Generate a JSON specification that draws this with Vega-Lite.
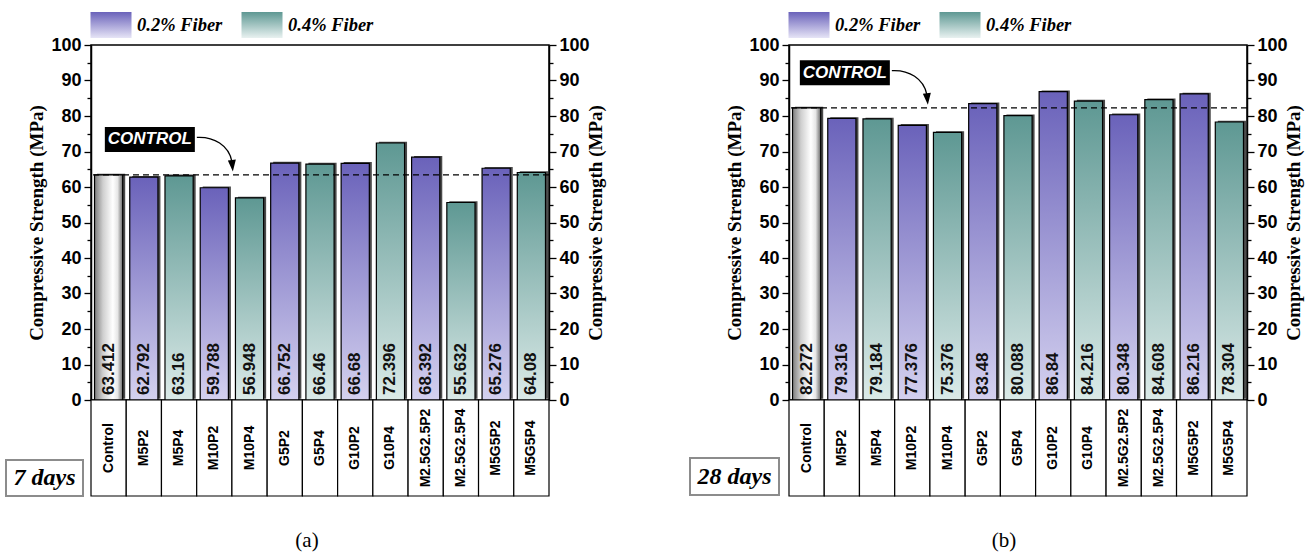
{
  "$schema": "https://vega.github.io/schema/vega-lite/v6.json",
  "background": "white",
  "padding": {"left": 5, "top": 3, "right": 3, "bottom": 3},
  "datasets": {
    "d7": [
      {"cat": "Control", "series": "Control", "value": 63.412},
      {"cat": "M5P2", "series": "0.2% Fiber", "value": 62.792},
      {"cat": "M5P4", "series": "0.4% Fiber", "value": 63.16},
      {"cat": "M10P2", "series": "0.2% Fiber", "value": 59.788},
      {"cat": "M10P4", "series": "0.4% Fiber", "value": 56.948},
      {"cat": "G5P2", "series": "0.2% Fiber", "value": 66.752},
      {"cat": "G5P4", "series": "0.4% Fiber", "value": 66.46},
      {"cat": "G10P2", "series": "0.2% Fiber", "value": 66.68},
      {"cat": "G10P4", "series": "0.4% Fiber", "value": 72.396},
      {"cat": "M2.5G2.5P2", "series": "0.2% Fiber", "value": 68.392},
      {"cat": "M2.5G2.5P4", "series": "0.4% Fiber", "value": 55.632},
      {"cat": "M5G5P2", "series": "0.2% Fiber", "value": 65.276},
      {"cat": "M5G5P4", "series": "0.4% Fiber", "value": 64.08}
    ],
    "d28": [
      {"cat": "Control", "series": "Control", "value": 82.272},
      {"cat": "M5P2", "series": "0.2% Fiber", "value": 79.316},
      {"cat": "M5P4", "series": "0.4% Fiber", "value": 79.184},
      {"cat": "M10P2", "series": "0.2% Fiber", "value": 77.376},
      {"cat": "M10P4", "series": "0.4% Fiber", "value": 75.376},
      {"cat": "G5P2", "series": "0.2% Fiber", "value": 83.48},
      {"cat": "G5P4", "series": "0.4% Fiber", "value": 80.088},
      {"cat": "G10P2", "series": "0.2% Fiber", "value": 86.84},
      {"cat": "G10P4", "series": "0.4% Fiber", "value": 84.216},
      {"cat": "M2.5G2.5P2", "series": "0.2% Fiber", "value": 80.348},
      {"cat": "M2.5G2.5P4", "series": "0.4% Fiber", "value": 84.608},
      {"cat": "M5G5P2", "series": "0.2% Fiber", "value": 86.216},
      {"cat": "M5G5P4", "series": "0.4% Fiber", "value": 78.304}
    ],
    "c7": [{"ctrl": 63.412}],
    "c28": [{"ctrl": 82.272}],
    "a7": [{"cat": "M5P2", "ay": 73.4, "label": "CONTROL"}],
    "a28": [{"cat": "M5P2", "ay": 92.2, "label": "CONTROL"}],
    "b7": [{"x0": 0, "x1": 1, "xm": 0.5, "y0": 0, "y1": 1, "ym": 0.5, "label": "7 days"}],
    "b28": [{"x0": 0, "x1": 1, "xm": 0.5, "y0": 0, "y1": 1, "ym": 0.5, "label": "28 days"}]
  },
  "hconcat": [
    {
      "vconcat": [
        {
          "width": 458,
          "height": 355,
          "view": {"stroke": "black", "strokeWidth": 1.5},
          "resolve": {"axis": {"y": "independent"}, "scale": {"shape": "independent"}, "legend": {"shape": "independent"}},
          "layer": [
            {
              "data": {"name": "d7"},
              "mark": {"type": "bar", "fill": "#4a4a4a", "xOffset": 2.5, "yOffset": -1.2},
              "encoding": {
                "x": {"field": "cat", "type": "nominal", "sort": null, "axis": null,
                  "scale": {"domain": ["Control","M5P2","M5P4","M10P2","M10P4","G5P2","G5P4","G10P2","G10P4","M2.5G2.5P2","M2.5G2.5P4","M5G5P2","M5G5P4"], "paddingInner": 0.2, "paddingOuter": 0.1}},
                "y": {"field": "value", "type": "quantitative", "scale": {"domain": [0, 100], "nice": false},
                  "axis": {"orient": "left", "values": [0,5,10,15,20,25,30,35,40,45,50,55,60,65,70,75,80,85,90,95,100],
                    "labelExpr": "datum.value % 10 === 0 ? datum.label : ''",
                    "tickSize": {"condition": {"test": "datum.value % 10 === 0", "value": 7}, "value": 4},
                    "tickColor": "black", "tickWidth": 1.3, "domainColor": "black", "domainWidth": 1.5, "grid": false,
                    "labelFont": "Liberation Sans", "labelFontWeight": "bold", "labelFontSize": 18, "labelColor": "black", "labelPadding": 3,
                    "title": "Compressive Strength (MPa)", "titleFont": "Liberation Serif", "titleFontSize": 19, "titleFontWeight": "bold", "titleColor": "black", "titlePadding": 4}}
              }
            },
            {
              "data": {"name": "d7"},
              "transform": [{"filter": "datum.series === 'Control'"}],
              "mark": {"type": "bar", "stroke": "black", "strokeWidth": 1.2,
                "fill": {"gradient": "linear", "x1": 0, "y1": 0, "x2": 1, "y2": 0, "stops": [{"offset": 0, "color": "#7d7d7d"}, {"offset": 0.3, "color": "#cfcfcf"}, {"offset": 0.65, "color": "#ffffff"}, {"offset": 0.82, "color": "#e6e6e6"}, {"offset": 1, "color": "#6a6a6a"}]}},
              "encoding": {
                "x": {"field": "cat", "type": "nominal", "sort": null, "axis": null},
                "y": {"field": "value", "type": "quantitative", "axis": null}
              }
            },
            {
              "data": {"name": "d7"},
              "transform": [{"filter": "datum.series === '0.2% Fiber'"}],
              "mark": {"type": "bar", "stroke": "black", "strokeWidth": 1.2,
                "fill": {"gradient": "linear", "x1": 0, "y1": 0, "x2": 0, "y2": 1, "stops": [{"offset": 0, "color": "#6a62ba"}, {"offset": 1, "color": "#d4d1ef"}]}},
              "encoding": {
                "x": {"field": "cat", "type": "nominal", "sort": null, "axis": null},
                "y": {"field": "value", "type": "quantitative", "axis": null}
              }
            },
            {
              "data": {"name": "d7"},
              "transform": [{"filter": "datum.series === '0.4% Fiber'"}],
              "mark": {"type": "bar", "stroke": "black", "strokeWidth": 1.2,
                "fill": {"gradient": "linear", "x1": 0, "y1": 0, "x2": 0, "y2": 1, "stops": [{"offset": 0, "color": "#5e9893"}, {"offset": 1, "color": "#dbeae8"}]}},
              "encoding": {
                "x": {"field": "cat", "type": "nominal", "sort": null, "axis": null},
                "y": {"field": "value", "type": "quantitative", "axis": null}
              }
            },
            {
              "data": {"name": "a7"},
              "mark": {"type": "point", "opacity": 0, "filled": true,
                "fill": {"gradient": "linear", "x1": 0, "y1": 0, "x2": 0, "y2": 1, "stops": [{"offset": 0, "color": "#6a62ba"}, {"offset": 1, "color": "#e6e4f6"}]}},
              "encoding": {
                "x": {"field": "cat", "type": "nominal", "axis": null},
                "y": {"field": "ay", "type": "quantitative", "axis": null},
                "shape": {"datum": "0.2% Fiber", "type": "nominal", "scale": {"range": ["M-1,-0.634L1,-0.634L1,0.634L-1,0.634Z"]},
                  "legend": {"orient": "none", "legendX": -1, "legendY": -41, "title": null, "symbolSize": 1681, "symbolOpacity": 1, "symbolStrokeColor": "#444", "symbolStrokeWidth": 1,
                    "labelFont": "Liberation Serif", "labelFontStyle": "italic", "labelFontWeight": "bold", "labelFontSize": 18.5, "labelColor": "black", "labelOffset": 5, "padding": 0, "labelLimit": 0}}
              }
            },
            {
              "data": {"name": "a7"},
              "mark": {"type": "point", "opacity": 0, "filled": true,
                "fill": {"gradient": "linear", "x1": 0, "y1": 0, "x2": 0, "y2": 1, "stops": [{"offset": 0, "color": "#5e9893"}, {"offset": 1, "color": "#e8f1f0"}]}},
              "encoding": {
                "x": {"field": "cat", "type": "nominal", "axis": null},
                "y": {"field": "ay", "type": "quantitative", "axis": null},
                "shape": {"datum": "0.4% Fiber", "type": "nominal", "scale": {"range": ["M-1,-0.634L1,-0.634L1,0.634L-1,0.634Z"]},
                  "legend": {"orient": "none", "legendX": 150, "legendY": -41, "title": null, "symbolSize": 1681, "symbolOpacity": 1, "symbolStrokeColor": "#444", "symbolStrokeWidth": 1,
                    "labelFont": "Liberation Serif", "labelFontStyle": "italic", "labelFontWeight": "bold", "labelFontSize": 18.5, "labelColor": "black", "labelOffset": 5, "padding": 0, "labelLimit": 0}}
              }
            },
            {
              "data": {"name": "d7"},
              "mark": {"type": "text", "angle": 270, "align": "left", "baseline": "middle", "dx": 5, "font": "Liberation Sans", "fontWeight": "bold", "fontSize": 17, "fill": "#111"},
              "encoding": {
                "x": {"field": "cat", "type": "nominal", "sort": null, "axis": null},
                "y": {"datum": 0, "type": "quantitative", "axis": null},
                "text": {"field": "value", "type": "nominal"}
              }
            },
            {
              "data": {"name": "c7"},
              "mark": {"type": "rule", "strokeDash": [6, 4], "strokeWidth": 1.3, "color": "black"},
              "encoding": {
                "y": {"field": "ctrl", "type": "quantitative",
                  "axis": {"orient": "right", "values": [0,5,10,15,20,25,30,35,40,45,50,55,60,65,70,75,80,85,90,95,100],
                    "labelExpr": "datum.value % 10 === 0 ? datum.label : ''",
                    "tickSize": {"condition": {"test": "datum.value % 10 === 0", "value": 7}, "value": 4},
                    "tickColor": "black", "tickWidth": 1.3, "domainColor": "black", "domainWidth": 1.5, "grid": false,
                    "labelFont": "Liberation Sans", "labelFontWeight": "bold", "labelFontSize": 18, "labelColor": "black", "labelPadding": 3,
                    "title": "Compressive Strength (MPa)", "titleAngle": 270, "titleFont": "Liberation Serif", "titleFontSize": 19, "titleFontWeight": "bold", "titleColor": "black", "titlePadding": 16}}
              }
            },
            {
              "data": {"name": "a7"},
              "mark": {"type": "point", "shape": "M-39,-12.5L51,-12.5L51,12.5L-39,12.5ZM84,21L92,20L89,32Z", "size": 4, "filled": true, "fill": "black", "strokeWidth": 0, "opacity": 1},
              "encoding": {
                "x": {"field": "cat", "type": "nominal", "axis": null},
                "y": {"field": "ay", "type": "quantitative", "axis": null}
              }
            },
            {
              "data": {"name": "a7"},
              "mark": {"type": "point", "shape": "M53,-2C70,-3 85,6 88,22", "size": 4, "filled": false, "fill": null, "stroke": "black", "strokeWidth": 1.3, "opacity": 1},
              "encoding": {
                "x": {"field": "cat", "type": "nominal", "axis": null},
                "y": {"field": "ay", "type": "quantitative", "axis": null}
              }
            },
            {
              "data": {"name": "a7"},
              "mark": {"type": "text", "dx": 6, "align": "center", "baseline": "middle", "font": "Liberation Sans", "fontWeight": "bold", "fontStyle": "italic", "fontSize": 17, "fill": "white"},
              "encoding": {
                "x": {"field": "cat", "type": "nominal", "axis": null},
                "y": {"field": "ay", "type": "quantitative", "axis": null},
                "text": {"field": "label", "type": "nominal"}
              }
            }
          ]
        },
        {
          "width": 458,
          "height": 96,
          "view": {"stroke": null},
          "title": {"text": "(a)", "orient": "bottom", "frame": "group", "anchor": "middle", "dx": -13, "offset": 33, "font": "Liberation Serif", "fontSize": 21, "fontWeight": "normal", "color": "black"},
          "resolve": {"scale": {"x": "independent", "y": "independent"}},
          "layer": [
            {
              "data": {"name": "d7"},
              "layer": [
                {
                  "mark": {"type": "rect", "stroke": "black", "strokeWidth": 1.2, "fill": "white"},
                  "encoding": {
                    "x": {"field": "cat", "type": "nominal", "sort": null, "axis": null,
                      "scale": {"domain": ["Control","M5P2","M5P4","M10P2","M10P4","G5P2","G5P4","G10P2","G10P4","M2.5G2.5P2","M2.5G2.5P4","M5G5P2","M5G5P4"], "paddingInner": 0, "paddingOuter": 0}}
                  }
                },
                {
                  "mark": {"type": "text", "angle": 270, "align": "center", "baseline": "middle", "font": "Liberation Sans", "fontWeight": "bold", "fontSize": 14, "fill": "black"},
                  "encoding": {
                    "x": {"field": "cat", "type": "nominal", "sort": null, "axis": null},
                    "text": {"field": "cat", "type": "nominal"}
                  }
                }
              ]
            },
            {
              "data": {"name": "b7"},
              "layer": [
                {
                  "mark": {"type": "rect", "fill": "white", "stroke": "#8c8c8c", "strokeWidth": 2},
                  "encoding": {
                    "x": {"field": "x0", "type": "quantitative", "scale": {"domain": [0, 1], "range": [-85, -8]}, "axis": null},
                    "x2": {"field": "x1"},
                    "y": {"field": "y0", "type": "quantitative", "scale": {"domain": [0, 1], "range": [96, 60]}, "axis": null},
                    "y2": {"field": "y1"}
                  }
                },
                {
                  "mark": {"type": "text", "align": "center", "baseline": "middle", "font": "Liberation Serif", "fontStyle": "italic", "fontWeight": "bold", "fontSize": 24, "fill": "black"},
                  "encoding": {
                    "x": {"field": "xm", "type": "quantitative", "axis": null},
                    "y": {"field": "ym", "type": "quantitative", "axis": null},
                    "text": {"field": "label", "type": "nominal"}
                  }
                }
              ]
            }
          ]
        }
      ],
      "spacing": 0,
      "bounds": "flush",
      "resolve": {"scale": {"shape": "independent"}, "legend": {"shape": "independent"}}
    },
    {
      "vconcat": [
        {
          "width": 458,
          "height": 355,
          "view": {"stroke": "black", "strokeWidth": 1.5},
          "resolve": {"axis": {"y": "independent"}, "scale": {"shape": "independent"}, "legend": {"shape": "independent"}},
          "layer": [
            {
              "data": {"name": "d28"},
              "mark": {"type": "bar", "fill": "#4a4a4a", "xOffset": 2.5, "yOffset": -1.2},
              "encoding": {
                "x": {"field": "cat", "type": "nominal", "sort": null, "axis": null,
                  "scale": {"domain": ["Control","M5P2","M5P4","M10P2","M10P4","G5P2","G5P4","G10P2","G10P4","M2.5G2.5P2","M2.5G2.5P4","M5G5P2","M5G5P4"], "paddingInner": 0.2, "paddingOuter": 0.1}},
                "y": {"field": "value", "type": "quantitative", "scale": {"domain": [0, 100], "nice": false},
                  "axis": {"orient": "left", "values": [0,5,10,15,20,25,30,35,40,45,50,55,60,65,70,75,80,85,90,95,100],
                    "labelExpr": "datum.value % 10 === 0 ? datum.label : ''",
                    "tickSize": {"condition": {"test": "datum.value % 10 === 0", "value": 7}, "value": 4},
                    "tickColor": "black", "tickWidth": 1.3, "domainColor": "black", "domainWidth": 1.5, "grid": false,
                    "labelFont": "Liberation Sans", "labelFontWeight": "bold", "labelFontSize": 18, "labelColor": "black", "labelPadding": 3,
                    "title": "Compressive Strength (MPa)", "titleFont": "Liberation Serif", "titleFontSize": 19, "titleFontWeight": "bold", "titleColor": "black", "titlePadding": 4}}
              }
            },
            {
              "data": {"name": "d28"},
              "transform": [{"filter": "datum.series === 'Control'"}],
              "mark": {"type": "bar", "stroke": "black", "strokeWidth": 1.2,
                "fill": {"gradient": "linear", "x1": 0, "y1": 0, "x2": 1, "y2": 0, "stops": [{"offset": 0, "color": "#7d7d7d"}, {"offset": 0.3, "color": "#cfcfcf"}, {"offset": 0.65, "color": "#ffffff"}, {"offset": 0.82, "color": "#e6e6e6"}, {"offset": 1, "color": "#6a6a6a"}]}},
              "encoding": {
                "x": {"field": "cat", "type": "nominal", "sort": null, "axis": null},
                "y": {"field": "value", "type": "quantitative", "axis": null}
              }
            },
            {
              "data": {"name": "d28"},
              "transform": [{"filter": "datum.series === '0.2% Fiber'"}],
              "mark": {"type": "bar", "stroke": "black", "strokeWidth": 1.2,
                "fill": {"gradient": "linear", "x1": 0, "y1": 0, "x2": 0, "y2": 1, "stops": [{"offset": 0, "color": "#6a62ba"}, {"offset": 1, "color": "#d4d1ef"}]}},
              "encoding": {
                "x": {"field": "cat", "type": "nominal", "sort": null, "axis": null},
                "y": {"field": "value", "type": "quantitative", "axis": null}
              }
            },
            {
              "data": {"name": "d28"},
              "transform": [{"filter": "datum.series === '0.4% Fiber'"}],
              "mark": {"type": "bar", "stroke": "black", "strokeWidth": 1.2,
                "fill": {"gradient": "linear", "x1": 0, "y1": 0, "x2": 0, "y2": 1, "stops": [{"offset": 0, "color": "#5e9893"}, {"offset": 1, "color": "#dbeae8"}]}},
              "encoding": {
                "x": {"field": "cat", "type": "nominal", "sort": null, "axis": null},
                "y": {"field": "value", "type": "quantitative", "axis": null}
              }
            },
            {
              "data": {"name": "a28"},
              "mark": {"type": "point", "opacity": 0, "filled": true,
                "fill": {"gradient": "linear", "x1": 0, "y1": 0, "x2": 0, "y2": 1, "stops": [{"offset": 0, "color": "#6a62ba"}, {"offset": 1, "color": "#e6e4f6"}]}},
              "encoding": {
                "x": {"field": "cat", "type": "nominal", "axis": null},
                "y": {"field": "ay", "type": "quantitative", "axis": null},
                "shape": {"datum": "0.2% Fiber", "type": "nominal", "scale": {"range": ["M-1,-0.634L1,-0.634L1,0.634L-1,0.634Z"]},
                  "legend": {"orient": "none", "legendX": -1, "legendY": -41, "title": null, "symbolSize": 1681, "symbolOpacity": 1, "symbolStrokeColor": "#444", "symbolStrokeWidth": 1,
                    "labelFont": "Liberation Serif", "labelFontStyle": "italic", "labelFontWeight": "bold", "labelFontSize": 18.5, "labelColor": "black", "labelOffset": 5, "padding": 0, "labelLimit": 0}}
              }
            },
            {
              "data": {"name": "a28"},
              "mark": {"type": "point", "opacity": 0, "filled": true,
                "fill": {"gradient": "linear", "x1": 0, "y1": 0, "x2": 0, "y2": 1, "stops": [{"offset": 0, "color": "#5e9893"}, {"offset": 1, "color": "#e8f1f0"}]}},
              "encoding": {
                "x": {"field": "cat", "type": "nominal", "axis": null},
                "y": {"field": "ay", "type": "quantitative", "axis": null},
                "shape": {"datum": "0.4% Fiber", "type": "nominal", "scale": {"range": ["M-1,-0.634L1,-0.634L1,0.634L-1,0.634Z"]},
                  "legend": {"orient": "none", "legendX": 150, "legendY": -41, "title": null, "symbolSize": 1681, "symbolOpacity": 1, "symbolStrokeColor": "#444", "symbolStrokeWidth": 1,
                    "labelFont": "Liberation Serif", "labelFontStyle": "italic", "labelFontWeight": "bold", "labelFontSize": 18.5, "labelColor": "black", "labelOffset": 5, "padding": 0, "labelLimit": 0}}
              }
            },
            {
              "data": {"name": "d28"},
              "mark": {"type": "text", "angle": 270, "align": "left", "baseline": "middle", "dx": 5, "font": "Liberation Sans", "fontWeight": "bold", "fontSize": 17, "fill": "#111"},
              "encoding": {
                "x": {"field": "cat", "type": "nominal", "sort": null, "axis": null},
                "y": {"datum": 0, "type": "quantitative", "axis": null},
                "text": {"field": "value", "type": "nominal"}
              }
            },
            {
              "data": {"name": "c28"},
              "mark": {"type": "rule", "strokeDash": [6, 4], "strokeWidth": 1.3, "color": "black"},
              "encoding": {
                "y": {"field": "ctrl", "type": "quantitative",
                  "axis": {"orient": "right", "values": [0,5,10,15,20,25,30,35,40,45,50,55,60,65,70,75,80,85,90,95,100],
                    "labelExpr": "datum.value % 10 === 0 ? datum.label : ''",
                    "tickSize": {"condition": {"test": "datum.value % 10 === 0", "value": 7}, "value": 4},
                    "tickColor": "black", "tickWidth": 1.3, "domainColor": "black", "domainWidth": 1.5, "grid": false,
                    "labelFont": "Liberation Sans", "labelFontWeight": "bold", "labelFontSize": 18, "labelColor": "black", "labelPadding": 3,
                    "title": "Compressive Strength (MPa)", "titleAngle": 270, "titleFont": "Liberation Serif", "titleFontSize": 19, "titleFontWeight": "bold", "titleColor": "black", "titlePadding": 16}}
              }
            },
            {
              "data": {"name": "a28"},
              "mark": {"type": "point", "shape": "M-42,-12.5L48,-12.5L48,12.5L-42,12.5ZM81,21L89,20L86,32Z", "size": 4, "filled": true, "fill": "black", "strokeWidth": 0, "opacity": 1},
              "encoding": {
                "x": {"field": "cat", "type": "nominal", "axis": null},
                "y": {"field": "ay", "type": "quantitative", "axis": null}
              }
            },
            {
              "data": {"name": "a28"},
              "mark": {"type": "point", "shape": "M50,-2C67,-3 82,6 85,22", "size": 4, "filled": false, "fill": null, "stroke": "black", "strokeWidth": 1.3, "opacity": 1},
              "encoding": {
                "x": {"field": "cat", "type": "nominal", "axis": null},
                "y": {"field": "ay", "type": "quantitative", "axis": null}
              }
            },
            {
              "data": {"name": "a28"},
              "mark": {"type": "text", "dx": 3, "align": "center", "baseline": "middle", "font": "Liberation Sans", "fontWeight": "bold", "fontStyle": "italic", "fontSize": 17, "fill": "white"},
              "encoding": {
                "x": {"field": "cat", "type": "nominal", "axis": null},
                "y": {"field": "ay", "type": "quantitative", "axis": null},
                "text": {"field": "label", "type": "nominal"}
              }
            }
          ]
        },
        {
          "width": 458,
          "height": 96,
          "view": {"stroke": null},
          "title": {"text": "(b)", "orient": "bottom", "frame": "group", "anchor": "middle", "dx": -14, "offset": 33, "font": "Liberation Serif", "fontSize": 21, "fontWeight": "normal", "color": "black"},
          "resolve": {"scale": {"x": "independent", "y": "independent"}},
          "layer": [
            {
              "data": {"name": "d28"},
              "layer": [
                {
                  "mark": {"type": "rect", "stroke": "black", "strokeWidth": 1.2, "fill": "white"},
                  "encoding": {
                    "x": {"field": "cat", "type": "nominal", "sort": null, "axis": null,
                      "scale": {"domain": ["Control","M5P2","M5P4","M10P2","M10P4","G5P2","G5P4","G10P2","G10P4","M2.5G2.5P2","M2.5G2.5P4","M5G5P2","M5G5P4"], "paddingInner": 0, "paddingOuter": 0}}
                  }
                },
                {
                  "mark": {"type": "text", "angle": 270, "align": "center", "baseline": "middle", "font": "Liberation Sans", "fontWeight": "bold", "fontSize": 14, "fill": "black"},
                  "encoding": {
                    "x": {"field": "cat", "type": "nominal", "sort": null, "axis": null},
                    "text": {"field": "cat", "type": "nominal"}
                  }
                }
              ]
            },
            {
              "data": {"name": "b28"},
              "layer": [
                {
                  "mark": {"type": "rect", "fill": "white", "stroke": "#8c8c8c", "strokeWidth": 2},
                  "encoding": {
                    "x": {"field": "x0", "type": "quantitative", "scale": {"domain": [0, 1], "range": [-99, -10]}, "axis": null},
                    "x2": {"field": "x1"},
                    "y": {"field": "y0", "type": "quantitative", "scale": {"domain": [0, 1], "range": [95, 58]}, "axis": null},
                    "y2": {"field": "y1"}
                  }
                },
                {
                  "mark": {"type": "text", "align": "center", "baseline": "middle", "font": "Liberation Serif", "fontStyle": "italic", "fontWeight": "bold", "fontSize": 24, "fill": "black"},
                  "encoding": {
                    "x": {"field": "xm", "type": "quantitative", "axis": null},
                    "y": {"field": "ym", "type": "quantitative", "axis": null},
                    "text": {"field": "label", "type": "nominal"}
                  }
                }
              ]
            }
          ]
        }
      ],
      "spacing": 0,
      "bounds": "flush",
      "resolve": {"scale": {"shape": "independent"}, "legend": {"shape": "independent"}}
    }
  ],
  "spacing": 83,
  "bounds": "full",
  "resolve": {"scale": {"shape": "independent"}, "legend": {"shape": "independent"}}
}
